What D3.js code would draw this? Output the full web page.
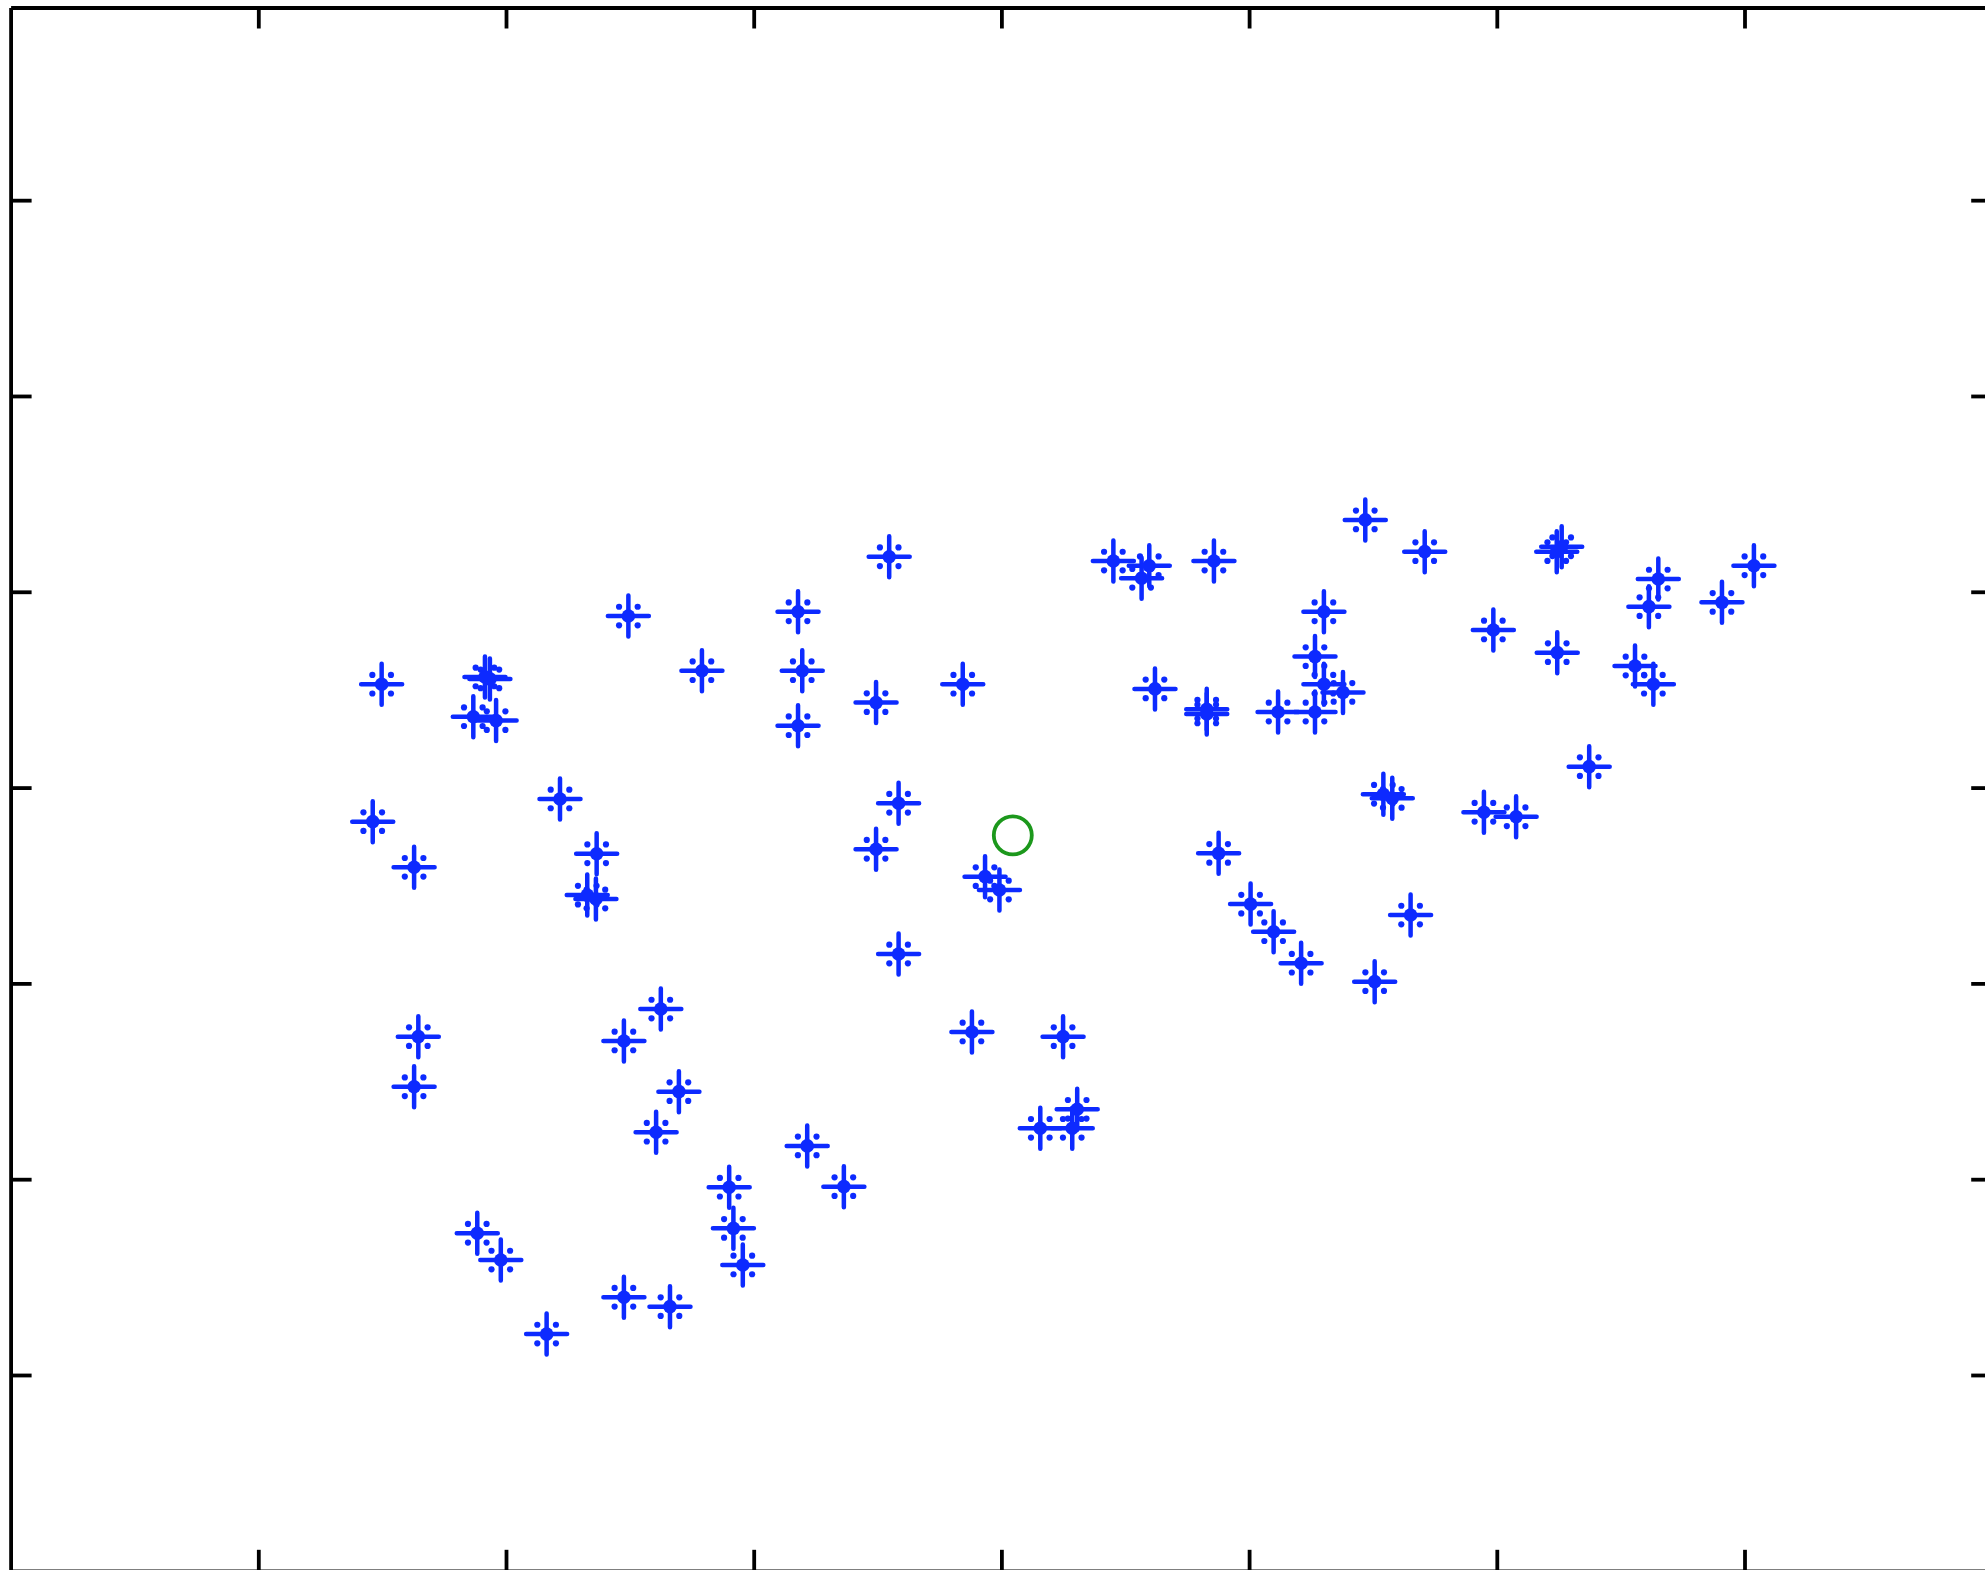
<!DOCTYPE html>
<html>
<head>
<meta charset="utf-8">
<script src="https://cdn.jsdelivr.net/npm/d3@7"></script>
<style>
  html, body { margin: 0; padding: 0; background: #fff; overflow: hidden; }
  svg { display: block; }
</style>
</head>
<body>
<svg id="chart" width="1985" height="1570"></svg>
<script>
// ---- data (axis units) ----
const xTicks = [1, 2, 3, 4, 5, 6, 7];
const yTicks = [1, 2, 3, 4, 5, 6, 7];

const starX = [
  5.469, 3.547, 4.452, 4.597, 4.566, 4.858, 5.709, 6.242, 6.262, 7.038,
  6.652, 6.614, 6.909, 2.494, 3.179, 5.302, 5.986, 6.244, 5.266, 6.558,
  6.632, 1.498, 1.915, 1.935, 2.791, 3.196, 3.494, 3.844, 4.620, 4.829,
  4.829, 5.117, 5.266, 5.302, 5.379, 3.179, 1.868, 1.960, 2.218, 1.462,
  3.585, 5.542, 5.578, 6.373, 5.948, 6.078, 2.366, 3.494, 1.629, 4.877,
  2.328, 2.363, 3.934, 3.992, 5.006, 5.099, 5.210, 5.652, 3.585, 5.507,
  1.646, 1.629, 2.625, 2.476, 2.698, 2.606, 3.881, 4.249, 4.306, 4.286,
  4.157, 3.216, 2.901, 3.364, 2.918, 2.956, 1.884, 1.979, 2.476, 2.662,
  2.164
];
const starY = [
  5.367, 5.179, 5.157, 5.133, 5.069, 5.157, 5.205, 5.205, 5.230, 5.133,
  5.065, 4.924, 4.946, 4.876, 4.898, 4.898, 4.805, 4.689, 4.669, 4.621,
  4.528, 4.528, 4.565, 4.555, 4.597, 4.597, 4.434, 4.528, 4.504, 4.400,
  4.376, 4.386, 4.386, 4.528, 4.486, 4.316, 4.362, 4.342, 3.942, 3.826,
  3.920, 3.966, 3.945, 4.107, 3.874, 3.851, 3.662, 3.685, 3.593, 3.664,
  3.451, 3.431, 3.545, 3.477, 3.405, 3.264, 3.103, 3.349, 3.150, 3.009,
  2.728, 2.472, 2.869, 2.706, 2.447, 2.240, 2.752, 2.728, 2.357, 2.260,
  2.260, 2.170, 1.959, 1.962, 1.749, 1.562, 1.724, 1.587, 1.397, 1.349,
  1.209
];
const circleX = [4.046];
const circleY = [3.756];

// ---- layout ----
const plotLeft = 10.6, plotRight = 1992.2, plotTop = 7.5, plotBottom = 1570.8;
const xMax = 8, yMax = 7.984;
const blue = "#0a2cff", green = "#1c981c";

const svg = d3.select("#chart");
const defs = svg.append("defs");
defs.append("filter").attr("id", "soft")
  .append("feGaussianBlur").attr("stdDeviation", 0.6);

const x = d3.scaleLinear().domain([0, xMax]).range([plotLeft, plotRight]);
const y = d3.scaleLinear().domain([0, yMax]).range([plotBottom, plotTop]);

// ---- frame & ticks (inward) ----
const tickLen = 21;
function styleAxis(g) {
  g.selectAll("path.domain").attr("stroke", "#000").attr("stroke-width", 3.8);
  g.selectAll(".tick line").attr("stroke", "#000").attr("stroke-width", 3.8);
  g.selectAll(".tick text").remove();
}
const axes = svg.append("g");
axes.append("g").attr("transform", `translate(0,${plotBottom})`)
  .call(d3.axisBottom(x).tickValues(xTicks).tickSize(-tickLen).tickSizeOuter(0).tickFormat(""))
  .call(styleAxis);
axes.append("g").attr("transform", `translate(0,${plotTop})`)
  .call(d3.axisTop(x).tickValues(xTicks).tickSize(-tickLen).tickSizeOuter(0).tickFormat(""))
  .call(styleAxis);
axes.append("g").attr("transform", `translate(${plotLeft},0)`)
  .call(d3.axisLeft(y).tickValues(yTicks).tickSize(-tickLen).tickSizeOuter(0).tickFormat(""))
  .call(styleAxis);
axes.append("g").attr("transform", `translate(${plotRight},0)`)
  .call(d3.axisRight(y).tickValues(yTicks).tickSize(-tickLen).tickSizeOuter(0).tickFormat(""))
  .call(styleAxis);

// ---- asterisk markers ----
const stars = starX.map((v, i) => ({ x: v, y: starY[i] }));
const arm = 20.5, diag = 9.3;
const g = svg.append("g").attr("filter", "url(#soft)");
const mk = g.selectAll("g.star").data(stars).join("g")
  .attr("class", "star")
  .attr("transform", d => `translate(${x(d.x)},${y(d.y)})`);
mk.append("path")
  .attr("d", `M${-arm},0H${arm}M0,${-arm}V${arm}`)
  .attr("stroke", blue).attr("stroke-width", 4.5).attr("stroke-linecap", "round").attr("fill", "none");
mk.append("circle").attr("r", 6.8).attr("fill", blue);
[[-1, -1], [1, -1], [-1, 1], [1, 1]].forEach(([sx, sy]) => {
  mk.append("circle").attr("cx", sx * diag).attr("cy", sy * diag).attr("r", 3.1).attr("fill", blue);
});

// ---- green circle ----
const circ = circleX.map((v, i) => ({ x: v, y: circleY[i] }));
svg.append("g").attr("filter", "url(#soft)").selectAll("circle").data(circ).join("circle")
  .attr("cx", d => x(d.x)).attr("cy", d => y(d.y))
  .attr("r", 19).attr("fill", "none").attr("stroke", green).attr("stroke-width", 3.8);
</script>
</body>
</html>
